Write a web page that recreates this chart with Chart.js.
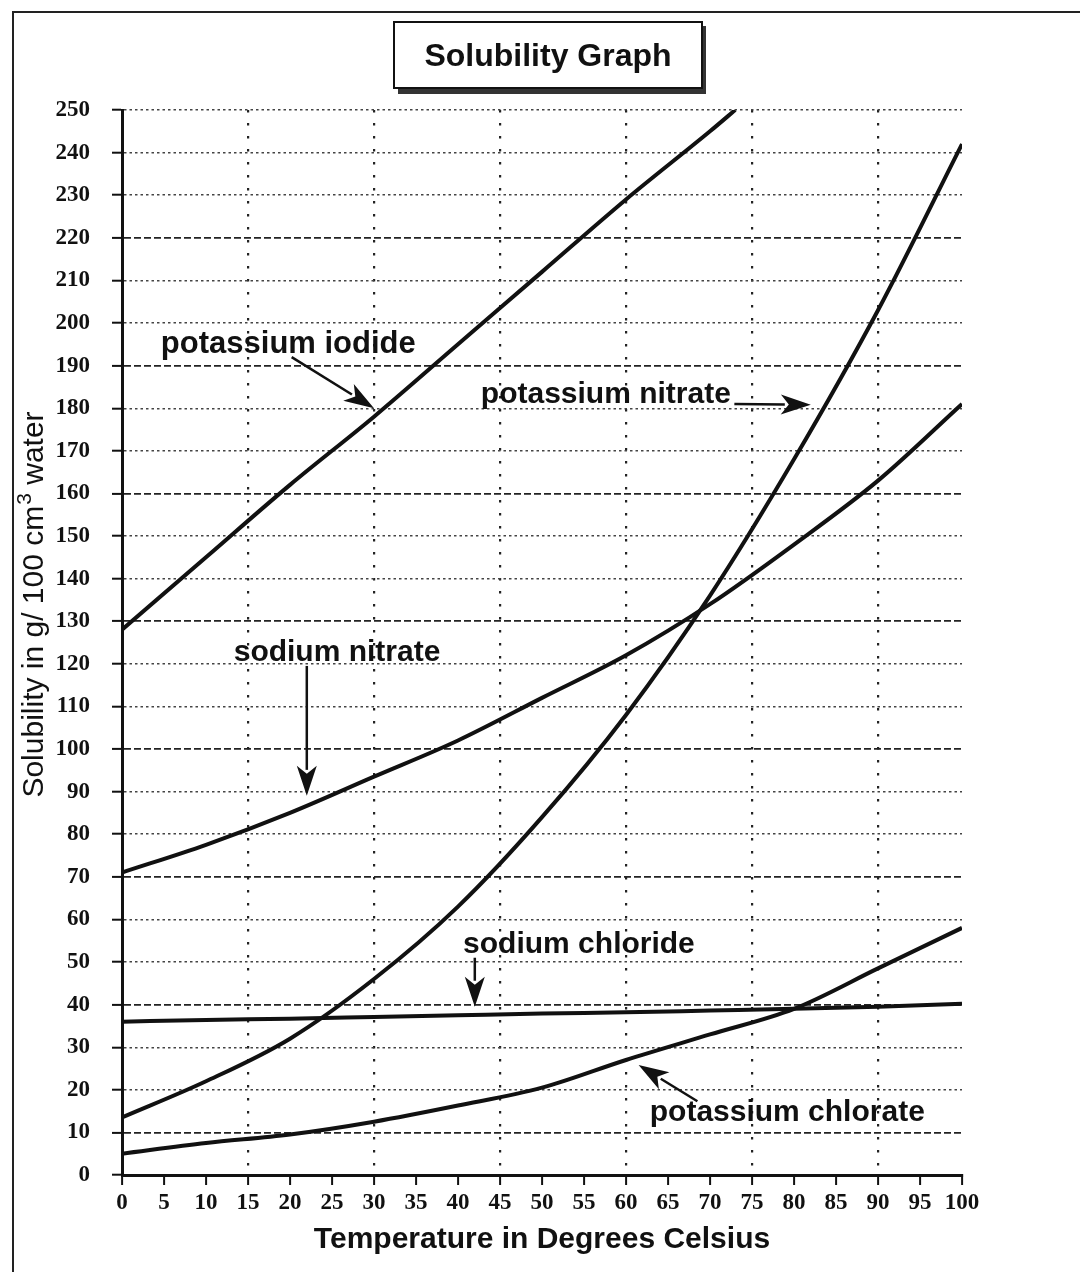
<!DOCTYPE html>
<html>
<head>
<meta charset="utf-8">
<title>Solubility Graph</title>
<script src="https://cdn.jsdelivr.net/npm/chart.js@4.4.1/dist/chart.umd.min.js"></script>
<style>
  html, body { margin: 0; padding: 0; background: #fff; }
  #wrap { width: 1080px; height: 1272px; overflow: hidden; }
</style>
</head>
<body>
<div id="wrap"><canvas id="chartCanvas" width="1080" height="1272"></canvas></div>
<script>
// data (g per 100 cm3 of water)
const temps = [0, 10, 20, 30, 40, 50, 60, 70, 80, 90, 100];
const kiTemps = [0, 10, 20, 30, 40, 50, 60, 70, 73];
const potassiumIodide = [128, 145, 162, 178, 195, 212, 229, 245, 250];
const potassiumNitrate = [13.5, 22, 32, 46, 63, 84, 108, 136, 168, 203, 242];
const sodiumNitrate = [71, 77.5, 85, 93.5, 102, 112, 122, 134, 148, 163, 181];
const sodiumChloride = [36, 36.4, 36.7, 37.1, 37.5, 37.9, 38.2, 38.6, 39, 39.5, 40.2];
const potassiumChlorate = [5, 7.5, 9.5, 12.5, 16.3, 20.5, 27, 33, 39, 48.5, 58];

const xTickValues = [0, 5, 10, 15, 20, 25, 30, 35, 40, 45, 50, 55, 60, 65, 70, 75, 80, 85, 90, 95, 100];
const yTickValues = [0, 10, 20, 30, 40, 50, 60, 70, 80, 90, 100, 110, 120, 130, 140, 150, 160, 170, 180, 190, 200, 210, 220, 230, 240, 250];

const chartTitle = 'Solubility Graph';
const xTitle = 'Temperature in Degrees Celsius';

// labels with arrows, placed in data units
const notes = [
  { text: 'potassium iodide',   size: 31, at: [19.8, 195],  from: [20.2, 192], to: [30, 180] },
  { text: 'potassium nitrate',  size: 30, at: [57.6, 183.2], from: [72.9, 181], to: [82, 180.8] },
  { text: 'sodium nitrate',     size: 30, at: [25.6, 122.6], from: [22, 119.5], to: [22, 89] },
  { text: 'sodium chloride',    size: 30, at: [54.4, 54],   from: [42, 51], to: [42, 39.5] },
  { text: 'potassium chlorate', size: 30, at: [79.2, 14.6], from: [68.5, 17.3], to: [61.5, 25.8] }
];

const toPoints = (xs, ys) => xs.map((x, i) => ({ x: x, y: ys[i] }));

const lineStyle = {
  borderColor: '#111',
  borderWidth: 4,
  pointRadius: 0,
  fill: false,
  cubicInterpolationMode: 'monotone'
};

function drawArrow(c, x1, y1, x2, y2) {
  const ang = Math.atan2(y2 - y1, x2 - x1);
  const cos = Math.cos(ang), sin = Math.sin(ang);
  const head = 30, half = 10;
  const bx = x2 - head * cos, by = y2 - head * sin;
  c.beginPath();
  c.moveTo(x1, y1);
  c.lineTo(bx + 4 * cos, by + 4 * sin);
  c.lineWidth = 2.5;
  c.stroke();
  c.beginPath();
  c.moveTo(x2, y2);
  c.lineTo(bx - half * sin, by + half * cos);
  c.lineTo(bx + 8 * cos, by + 8 * sin);
  c.lineTo(bx + half * sin, by - half * cos);
  c.closePath();
  c.fill();
}

const decor = {
  id: 'decor',
  beforeDraw(chart) {
    const c = chart.ctx;
    c.save();
    c.fillStyle = '#fff';
    c.fillRect(0, 0, chart.width, chart.height);
    // outer frame
    c.strokeStyle = '#222';
    c.lineWidth = 2;
    c.strokeRect(13, 12, 1120, 1320);
    // title box with shadow
    c.fillStyle = '#333';
    c.fillRect(398, 26, 308, 68);
    c.fillStyle = '#fff';
    c.fillRect(394, 22, 308, 66);
    c.strokeStyle = '#111';
    c.strokeRect(394, 22, 308, 66);
    c.fillStyle = '#111';
    c.font = 'bold 32px "Liberation Sans", Arial, sans-serif';
    c.textAlign = 'center';
    c.textBaseline = 'middle';
    c.fillText(chartTitle, 548, 57);
    c.restore();
  },
  afterDraw(chart) {
    const c = chart.ctx;
    const xs = chart.scales.x, ys = chart.scales.y;
    c.save();
    c.fillStyle = '#111';
    c.strokeStyle = '#111';
    c.textAlign = 'center';
    c.textBaseline = 'middle';
    notes.forEach(n => {
      c.font = 'bold ' + n.size + 'px "Liberation Sans", Arial, sans-serif';
      c.fillText(n.text, xs.getPixelForValue(n.at[0]), ys.getPixelForValue(n.at[1]));
      drawArrow(c,
        xs.getPixelForValue(n.from[0]), ys.getPixelForValue(n.from[1]),
        xs.getPixelForValue(n.to[0]), ys.getPixelForValue(n.to[1]));
    });

    // x axis title
    c.textBaseline = 'alphabetic';
    c.font = 'bold 30px "Liberation Sans", Arial, sans-serif';
    c.fillText(xTitle, 542, 1248);

    // y axis title with superscript
    c.translate(43, 605);
    c.rotate(-Math.PI / 2);
    const a = 'Solubility in g/ 100 cm', b = ' water';
    c.font = '30px "Liberation Sans", Arial, sans-serif';
    const wa = c.measureText(a).width, wb = c.measureText(b).width;
    c.font = '21px "Liberation Sans", Arial, sans-serif';
    const ws = c.measureText('3').width;
    const start = -(wa + ws + wb) / 2;
    c.textAlign = 'left';
    c.font = '30px "Liberation Sans", Arial, sans-serif';
    c.fillText(a, start, 0);
    c.font = '21px "Liberation Sans", Arial, sans-serif';
    c.fillText('3', start + wa + 1, -12);
    c.font = '30px "Liberation Sans", Arial, sans-serif';
    c.fillText(b, start + wa + ws + 1, 0);
    c.restore();
  }
};

const tickFont = { family: '"Liberation Serif", "Times New Roman", serif', size: 23, weight: 'bold' };
const isDashed = v => v % 30 === 10 && v < 250;

const ctx = document.getElementById('chartCanvas').getContext('2d');
new Chart(ctx, {
  type: 'line',
  data: {
    datasets: [
      { label: 'potassium iodide', data: toPoints(kiTemps, potassiumIodide), ...lineStyle },
      { label: 'potassium nitrate', data: toPoints(temps, potassiumNitrate), ...lineStyle },
      { label: 'sodium nitrate', data: toPoints(temps, sodiumNitrate), ...lineStyle },
      { label: 'sodium chloride', data: toPoints(temps, sodiumChloride), ...lineStyle },
      { label: 'potassium chlorate', data: toPoints(temps, potassiumChlorate), ...lineStyle }
    ]
  },
  options: {
    responsive: false,
    animation: false,
    devicePixelRatio: 1,
    layout: { padding: { left: 0, top: 110, right: 118, bottom: 0 } },
    plugins: { legend: { display: false }, tooltip: { enabled: false }, title: { display: false } },
    scales: {
      x: {
        type: 'linear',
        min: 0,
        max: 100,
        afterBuildTicks: s => { s.ticks = xTickValues.map(v => ({ value: v })); },
        afterFit: s => { s.height = 97; },
        ticks: { font: tickFont, color: '#111', padding: 4, maxRotation: 0, autoSkip: false },
        grid: {
          color: c => (c.tick && c.tick.value % 15 === 0 && c.tick.value > 0) ? '#222' : 'rgba(0,0,0,0)',
          lineWidth: 2.2,
          tickColor: '#111',
          tickWidth: 2,
          tickLength: 10
        },
        border: { color: '#111', width: 3, dash: c => c.tick ? [2.5, 10.5] : [] }
      },
      y: {
        type: 'linear',
        min: 0,
        max: 250,
        afterBuildTicks: s => { s.ticks = yTickValues.map(v => ({ value: v })); },
        afterFit: s => { s.width = 122; },
        ticks: { font: tickFont, color: '#111', padding: 22, autoSkip: false },
        grid: {
          color: c => {
            if (!c.tick || c.tick.value === 0) return 'rgba(0,0,0,0)';
            return isDashed(c.tick.value) ? '#222' : '#444';
          },
          lineWidth: c => (c.tick && isDashed(c.tick.value)) ? 1.8 : 1.4,
          tickColor: '#111',
          tickWidth: 2,
          tickLength: 10
        },
        border: {
          color: '#111',
          width: 3,
          dash: c => (c.tick && isDashed(c.tick.value)) ? [7, 3] : [2.5, 3]
        }
      }
    }
  },
  plugins: [decor]
});
</script>
</body>
</html>
